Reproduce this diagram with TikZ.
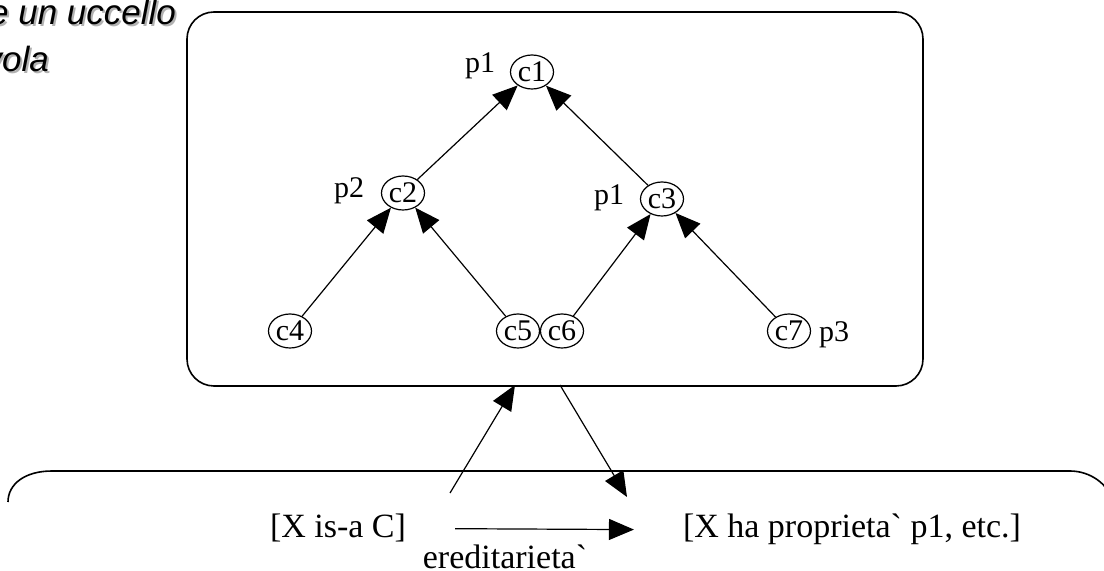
\documentclass[tikz,border=0pt]{standalone}
\usepackage{fontspec}
\setmainfont{Liberation Serif}
\newfontfamily\slidefont{Liberation Sans}
\usetikzlibrary{arrows.meta,shapes.geometric}

\begin{document}
\begin{tikzpicture}[x=0.5pt,y=-0.5pt,
  cls/.style={ellipse,draw,line width=0.6pt,inner sep=0pt,
    minimum width=21.5pt,minimum height=17pt,
    font=\fontsize{15}{17}\selectfont},
  prop/.style={anchor=base,font=\fontsize{15}{17}\selectfont},
  stmt/.style={anchor=base,font=\fontsize{17}{19}\selectfont},
  isa/.style={-{Triangle[length=12.5pt,width=10.5pt]},line width=0.6pt},
  title/.style={anchor=base east,font=\fontsize{17.5}{20}\slidefont\itshape}]
  \clip (0,0) rectangle (1104,571);
  % slide title, cut by the left edge
  \node[title,gray!60] at (185,27) {e un uccello};
  \node[title]         (t1) at (183,25) {e un uccello};
  \node[title,gray!60] at (58,74) {vola};
  \node[title]         (t2) at (56,72) {vola};
  % the class hierarchy
  \draw[line width=0.8pt,rounded corners=13.5pt] (187,12) rectangle (923,386);
  \node[cls]  (c1)  at (532,72)  {c1};
  \node[cls]  (c2)  at (403,193) {c2};
  \node[cls]  (c3)  at (662,199) {c3};
  \node[cls]  (c4)  at (290,331) {c4};
  \node[cls]  (c5)  at (518,331) {c5};
  \node[cls]  (c6)  at (562,331) {c6};
  \node[cls]  (c7)  at (789,331) {c7};
  \node[prop] (pc1) at (480,73)  {p1};
  \node[prop] (pc2) at (349,198) {p2};
  \node[prop] (pc3) at (609,205) {p1};
  \node[prop] (pc7) at (834,342) {p3};
  \draw[isa] (c2) -- (c1);
  \draw[isa] (c3) -- (c1);
  \draw[isa] (c4) -- (c2);
  \draw[isa] (c5) -- (c2);
  \draw[isa] (c6) -- (c3);
  \draw[isa] (c7) -- (c3);
  % the statements below
  \draw[line width=0.8pt] (8,502) .. controls (8,484) and (25,471) .. (52,471)
    -- (1070,471) .. controls (1090,471) and (1108,484) .. (1112,500);
  \coordinate (upA)   at (450,493);
  \coordinate (upB)   at (515,385);
  \coordinate (downA) at (560,385);
  \coordinate (downB) at (627,497);
  \draw[isa] (upA) -- (upB);
  \draw[isa] (downA) -- (downB);
  \node[stmt] (isa)  at (338,538) {[X is-a C]};
  \node[stmt] (hasp) at (852,538) {[X ha proprieta\textasciigrave{} p1, etc.]};
  \node[stmt] (ered) at (505,569) {ereditarieta\textasciigrave};
  \draw[isa,shorten <=21pt,shorten >=21pt] (isa.east) -- (hasp.west);
\end{tikzpicture}
\end{document}
